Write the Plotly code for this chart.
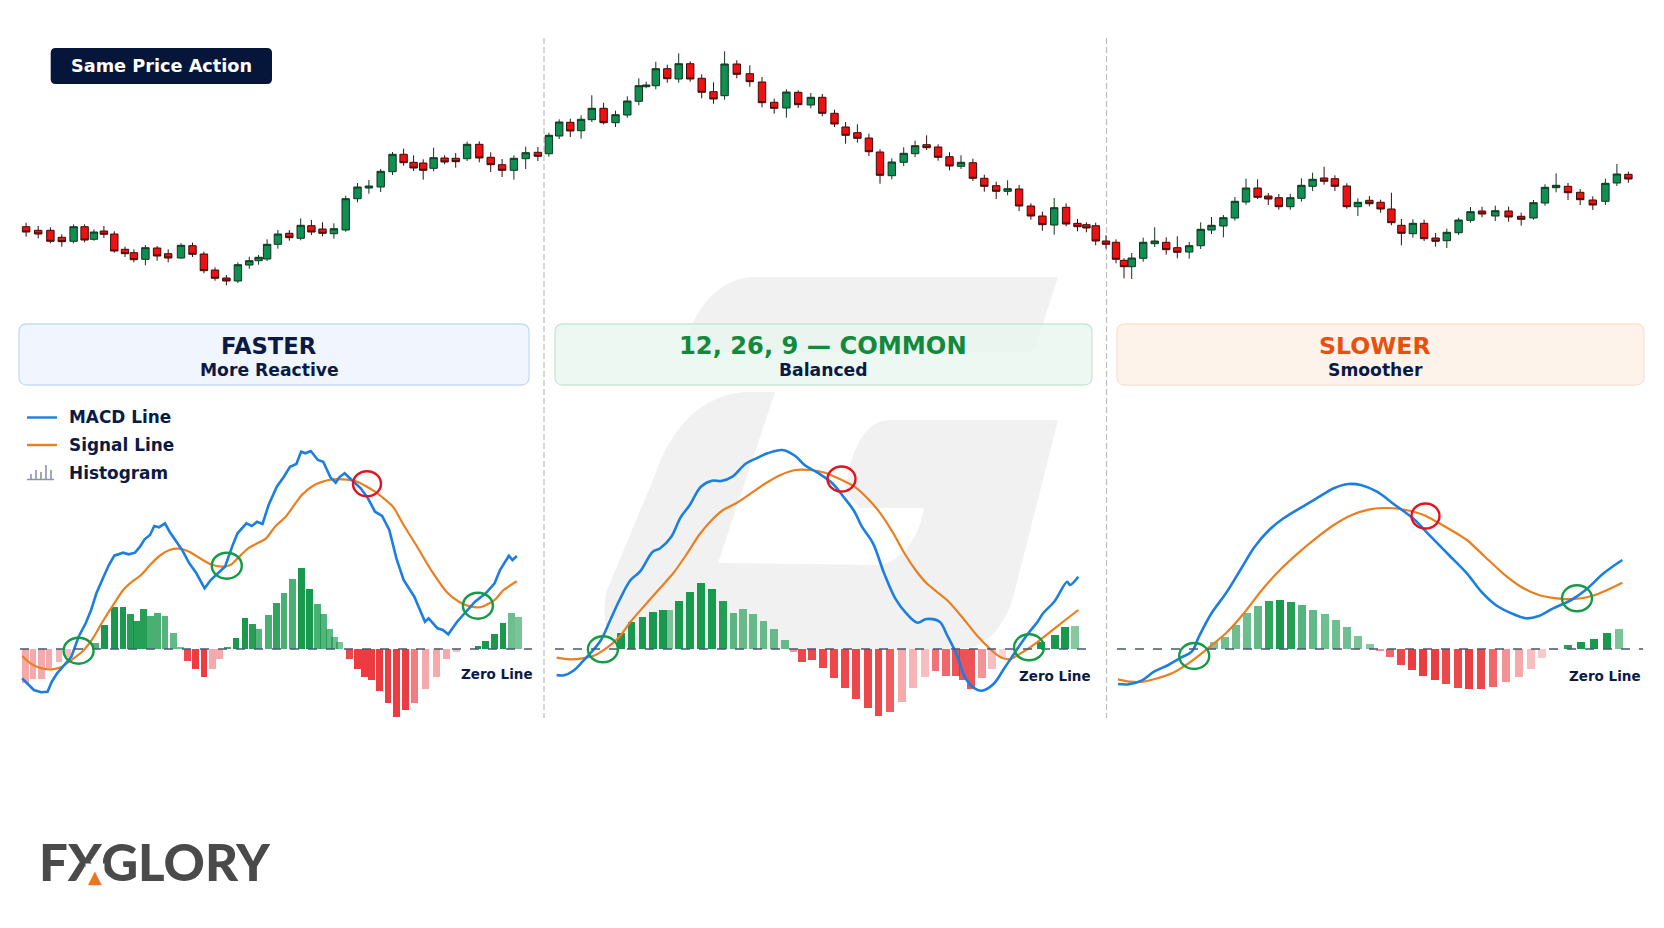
import plotly.graph_objects as go

W, H = 1664, 928

# candles, x on the shared horizontal scale, prices on an arbitrary scale
candle_x = [26.1,38.2,50.4,61.8,73.6,84.6,93.9,103.9,114.3,125,133.9,145.4,157.1,168.2,181,192.5,203.9,215,226.4,237.9,249.3,258.6,267.1,277.9,289.3,300.7,311.4,322.5,333.9,345.7,357.5,368.9,380.7,392.5,403.6,413.6,423.2,433.6,444.6,455.7,467.1,479.3,490.7,502.1,513.9,525.7,537.9,548.9,
            559.2,570.3,581.1,591.8,603.6,615.5,627.3,638.8,646.2,655.8,667.3,678.7,690.2,701.7,713.5,724.6,736.8,749.8,762,774.2,786.4,798.2,810.8,822.3,834.5,845.6,857.4,868.9,880,891.8,903.7,915.1,926.6,938.1,949.5,961,972.9,984.3,996.2,1007.6,1019.1,1030.9,1042.4,1054.2,1066.1,1077.5,1086.4,1095.7,1106,1116,
            1124,1131.7,1143.2,1154.7,1166.2,1177.3,1189.2,1200.7,1211.5,1223.4,1234.9,1246,1257.6,1268.3,1278.8,1290.3,1301.4,1312.6,1324.1,1334.9,1346.8,1357.9,1369.4,1380.6,1391.4,1401.4,1412.9,1424.1,1435.6,1446.8,1458.6,1470.5,1482,1495.3,1508.6,1521.2,1533.5,1545,1556.1,1568,1580.2,1592.8,1605.4,1616.9,1628.4]
candle_open = [73.3,69.7,69.7,62.7,58.7,73.3,60.7,69,66,50.7,47.3,40.7,52,46.3,42,54.3,46,30,22,19,35,39.3,41,55.7,66.7,61.7,74.3,71,66.3,70,101.3,112,113,128.3,145.7,137.7,137,131.7,142,141.7,141.3,155.7,142.7,135.3,129.7,141.3,147.7,146.3,
               164,177.7,169.3,180.3,191.7,177.3,185,198.7,213.3,214.3,231.3,221,236.3,221.7,208.3,204.3,236,226.3,218,197.7,192,207.7,195,202.7,186.7,173,167.3,162,148,124.3,137.7,146.3,155.3,153,143.3,133.7,137.3,121.7,114.3,108.7,111,94,84,75,92.7,76.7,75.3,74.3,59,57.7,
               39.7,33.3,41.7,56.3,57.7,52.3,48,54.3,70,74,82,98,112,104,102.3,93.3,101.7,113.7,122,121.3,114,93.3,99.7,97.7,91,74.7,66.3,76.7,62,59.3,67.3,79.7,89,84,89,83.7,82,97,112.3,113.7,107.7,100,98.7,117,125.7]
candle_high = [77.3,74,72.7,65.7,75.7,75.7,70.7,74,68.7,53.3,50.7,55,54,50.7,56.7,57.3,48.3,32.7,25,37.7,43.3,45,60.7,70,70,81.7,80,77.7,76.7,104.3,117,120,131,148,151.3,144.7,140.7,152.3,144.7,147,158.3,158.7,147.7,141,144.7,153.3,153,167.3,
               180.7,181.3,184.7,204.7,197.3,189.3,203.7,221.7,218.3,238.3,235.3,246.7,238.7,225.7,217.7,248.7,239.7,234.7,223,201.3,210.7,209.7,207,206,190.3,178,175.7,166.3,150.7,141.7,152.7,159.3,164.7,155.7,147.7,144.7,141.3,125.3,118.3,119.7,115,96.7,88.3,102,96.7,81,77.7,77.3,64.7,60.7,
               41.7,47,62.3,72.7,62.7,63.7,58,77.7,83,85,103,121.3,120.7,107,106,106.3,121.7,127.3,133.3,124.7,116.7,101.7,104,100.3,107.3,81,80.7,80.3,67,71.3,82.3,93,93.3,94.3,93.3,87.3,100,115.7,126.7,117,111,103.7,121.3,136,128.3]
candle_low = [63.3,61.7,56.7,53.3,56.7,57.7,59.3,62,47.3,43,37.7,34.7,39.3,37.7,41.3,43,26.7,19.3,14.7,17,31.3,35.3,39,51.3,59.3,59.7,65,63.7,61.3,68.3,97.7,106.3,108,125,134.3,129,120.3,128.7,135.7,132.3,139,137.7,128,123,120.3,131,139,143.3,
              161,163,161.3,178,175.7,173,182.3,194.7,211.7,210.7,217.3,217.3,218.3,201.7,196.3,200.3,221.7,213.3,192.7,186.3,182.3,192,191.7,183.7,173,156.3,157.3,144,116.3,120.7,134,143,150,139.3,129.7,131,119,108.3,101,104.7,89,80.3,69.3,65.3,73.7,68.7,67.7,54.7,51.3,36.7,
              21.7,21,38.3,53,45.3,41.7,41.3,51,66,62.7,79.3,95.3,101,95,90.3,90.3,98.3,109,115.3,109,91.3,84,93.7,87.3,74.7,54.7,62.3,59,53.3,52,65,77.3,82.7,79,78.3,74.3,80.3,94.3,107.7,100,95,90,95,114,117.3]
candle_close = [68,66,58.7,58.3,73.3,60,68,65.7,49,46.3,40.3,52.3,44,42,54.7,45.7,29.3,21.7,19,35.3,39.3,42.7,55.7,66,62.3,74.7,68,66.7,71.3,101.3,113,114,128.7,145.7,137.3,132,129.7,142.3,138,138.3,155.7,142,135.3,129.7,141.7,147.3,143.7,164.7,
                178,169,180.7,191.7,177.3,185.3,199,214.3,215,231.3,221.3,236.3,221,207.7,201,236,225.7,218.3,197.3,191.7,208,195.3,202.7,186.7,176,164.7,161.7,148.3,124.7,138,146.7,154.3,152.3,142.7,134,137.7,121.7,113.7,108.7,111.3,94,84,75.3,92.3,76,73.3,72,59,55.7,40.7,
                33.3,42,57.7,59,50.3,47.7,54.3,70.7,74.7,82.3,98.7,112,102.7,101,93.3,102.3,114.7,120.7,118.7,113.7,93.3,97.7,96.3,91,77.3,66.7,76.7,61.3,58.7,67.7,80,88.3,86,89.3,83,80.7,97.3,112.7,114.7,107.3,100.3,95,116.7,126,121]

# faster panel
fast_macd_x = [22.1,26.8,33.9,41.1,47.5,51.8,57.1,64.3,71.4,78.6,85.7,91.1,96.4,103.6,108.9,114.3,123.2,128.6,135,140,144.6,150,154.3,158.9,165,169.6,176.8,182.1,189.3,196.4,204.6,210.7,217.9,225,232.1,237.5,246.4,251.8,257.1,262.5,268.6,276.8,283.9,290,296.4,301.1,305.4,310.7,317.9,323.2,330.4,335.7,339.3,344.6,351.8,360.7,367.9,375,382.1,389.3,396.4,403.6,414.3,425,428.6,437.5,442.9,448.2,457.1,464.3,475,485.7,494.6,500,508.9,512.5,516.8]
fast_macd = [-29.3,-34.3,-41,-43.3,-42.7,-32.7,-24.3,-16,-7.7,12.3,25.7,39,55.7,72.3,84,93.3,96.3,94.7,96.3,102.3,109.7,114,123,121.7,125.7,117.3,107.3,99,85.7,75.7,60.7,69,75.7,82.3,102.3,115.7,125.7,123,127.3,125,144,162.3,172.3,182.3,185,197.3,195.7,198,189,187.3,171.7,166.3,171.7,175.7,169,160.7,150.7,137.3,133,119,90.7,69,52.3,27.3,30.7,20.7,19,14.7,27.3,35.7,47.3,55.7,65.7,79,93.3,89,93]
fast_signal_x = [22.1,30.4,41.1,51.8,60.7,71.4,82.1,92.9,103.6,114.3,123.2,132.1,141.1,150,160.7,169.6,178.6,189.3,200,210.7,221.4,230.4,239.3,248.2,266.1,275,285.7,301.8,314.3,328.6,342.9,357.1,375,392.9,403.6,416.1,432.1,446.4,458.9,471.4,482.1,494.6,503.6,516.8]
fast_signal = [-7,-14.3,-19.3,-20.3,-18.3,-11,-2.7,10.7,29,45.7,59,67.3,74,84,94,99,100.3,97.3,90.7,84.7,82.3,84,92.3,100.7,110.7,122.3,132.3,154,164,169,169.7,167.3,157.3,142.3,124,104,77.3,57.3,47.3,42.3,42.3,49,59,67.7]
fast_hist_x = [25.7,32.9,41.1,48.9,58.9,67.9,95.7,104.6,114.3,122.9,130.4,136.4,143.6,150.7,157.5,165,173.2,180.4,187.5,195.7,203.9,212.1,219.6,227.1,236,245,252.1,258.6,268.6,276.8,283.9,292.5,301.4,309.6,317.1,323.2,329.3,334.3,339.3,349.3,357.1,364.3,371.8,379.3,387.9,396.4,405.7,414.3,425.4,436.1,446.4,456.4,477.9,485.7,494.3,502.9,511.1,518.6]
fast_hist = [-34.3,-30,-30,-19.3,-12.7,-7.7,6.3,24,41.7,41.7,35,28,40.3,33.3,36.3,33,16,2.3,-11.7,-20,-28.3,-20,-10,1.3,11.3,30.7,25,19.7,34,46.3,55.7,70.3,80.7,59.7,45,35,20.3,12,6.7,-10.3,-20,-28.3,-31,-42,-54.3,-67.7,-61,-54.3,-40.3,-28.3,-9.7,-2.7,3.3,7.7,15.3,25.7,36.3,32]
fast_alpha = [.4,.4,.4,.4,.35,.3,.7,.95,.95,.95,.9,.9,.9,.75,.75,.7,.65,.6,.85,.9,.9,.4,.4,.8,.95,.95,.9,.7,.75,.85,.75,.75,.95,.95,.75,.7,.65,.6,.55,.85,.9,.9,.9,.9,.9,.9,.9,.6,.4,.4,.4,.3,.95,.95,.95,.95,.6,.55]
fast_buy_x, fast_buy_y = [78.6,226.8,477.9], [-1.7,83.3,43.3]
fast_sell_x, fast_sell_y = [367], [165.3]

# common 12, 26, 9 panel
mid_macd_x = [556.6,564,573.3,582.5,591.8,601,610.3,619.5,630.6,639.9,652.8,660.2,671.3,680.6,689.8,700.9,712,721.3,732.4,745.3,756.4,767.5,782.3,795.3,804.5,817.5,832.3,843.4,854.5,861.9,873,884.1,895.2,906.3,917.4,926.6,939.6,947,956.2,965.5,974.7,982.1,993.2,1004.3,1015.4,1028.3,1037.6,1043.1,1054.2,1067.2,1069.8,1078.3]
mid_macd = [-26,-26.3,-21.7,-12.7,-2.7,9,29,49,69,77.3,97.3,100.7,112.3,131.7,144,162.3,168.3,168,172.3,185,190.7,195.7,199,193,184,176.3,165.7,152.3,137.3,122.3,105.7,75.7,50.7,35.7,26.3,30,27.3,14,-4.3,-29.3,-39.3,-41.7,-35.3,-19.3,-2.7,15.7,27.3,35.7,47.3,67.3,64,72.3]
mid_signal_x = [556.6,569.6,582.5,595.5,608.4,619.5,630.6,643.6,658.4,673.2,686.1,699.1,710.2,723.1,736.1,750.9,765.7,780.5,795.3,810.1,824.9,839.7,854.5,867.4,880.4,893.3,904.4,915.5,926.6,947,961.8,976.5,991.3,1000.6,1009.8,1020.9,1035.7,1050.5,1065.3,1078.3]
mid_signal = [-8.7,-10.3,-9.3,-6,2.3,12.3,27.3,42.3,59,75.7,94,114,127.3,139,145.7,155.7,165.7,174,179,179,176.3,170,162.3,150.7,135.7,115.7,95.7,79,65.7,49,32.3,14,-1,-8.3,-10.3,-4.3,5.7,17.3,29,39]
mid_hist_x = [620.7,631.4,642.5,653.2,662.8,669.5,679.1,689.8,700.6,711.7,722.8,733.5,743.1,753.1,763.5,774.2,785.3,793.4,801.6,812.3,823,833.8,845.2,856.3,867.8,878.5,890,901.8,912.9,924.8,935.5,946.2,956.2,962.9,971,981.7,992.1,1002.5,1041.3,1054.6,1065.3,1075.3]
mid_hist = [16.3,27.3,32.3,36.7,39,38.7,48,57,65.7,60.3,48,36.3,40,35.3,28,20,9,-2.7,-13,-10.7,-19.3,-28.7,-39.3,-49.7,-59.3,-67,-62.7,-52.7,-39.3,-28.3,-22,-27.3,-27.3,-31,-40.3,-28.7,-20,-7.7,6.7,14,22.3,23]
mid_alpha = [.95,.95,.95,.95,.95,.5,.95,.95,.95,.95,.9,.65,.6,.6,.6,.6,.6,.5,.85,.85,.85,.85,.85,.85,.85,.85,.75,.4,.35,.3,.65,.7,.8,.8,.8,.5,.3,.2,.95,.95,.95,.5]
mid_buy_x, mid_buy_y = [602.9,1029], [-0.3,1.7]
mid_sell_x, mid_sell_y = [841.5], [170]

# slower panel
slow_macd_x = [1118,1128.8,1141.4,1154,1168.3,1180.9,1191.7,1198.9,1211.5,1225.9,1240.3,1254.7,1269.1,1283.5,1301.4,1319.4,1333.8,1348.2,1360.8,1377,1395,1412.9,1430.9,1448.9,1466.9,1481.3,1495.7,1513.7,1526.3,1538.8,1553.2,1571.2,1585.6,1603.6,1622.3]
slow_macd = [-35,-35.3,-31.7,-22.7,-16,-8.7,-2.7,12.3,35.7,55.7,79,102.3,119,130.7,141.7,152.3,160.7,165,164,157.3,144,130.7,112.3,94,75.7,57.3,44,34.7,30.7,33,40.7,49,59,75.7,89]
slow_signal_x = [1118,1130.6,1143.2,1157.6,1171.9,1189.9,1207.9,1225.9,1243.9,1261.9,1279.9,1297.8,1315.8,1333.8,1351.8,1369.8,1387.8,1405.8,1423.7,1445.3,1466.9,1484.9,1502.9,1520.9,1538.8,1556.8,1574.8,1592.8,1607.2,1622.3]
slow_signal = [-30.3,-32.7,-32.7,-29.3,-24.3,-13.3,0.7,15.7,35.7,59,79,95.7,110.7,124,134,139.7,141,139,134,122.3,109,92.3,75.7,62.3,54,50.7,50,53.3,59,66.3]
slow_hist_x = [1214.4,1224.8,1235.6,1246.8,1258.3,1269.1,1279.9,1290.6,1301.8,1312.9,1324.5,1335.6,1346.8,1358.3,1369.8,1379.9,1390.3,1401.1,1412.2,1423.4,1434.5,1446,1457.6,1469.1,1481.3,1493.2,1506.1,1518.7,1530.9,1542.4,1555,1568.3,1580.6,1593.9,1606.5,1618.7]
slow_hist = [7.3,12.3,24,35.7,43.3,48,48.7,47,43.7,39,34.7,29,22,13.3,5,-1.7,-8,-16.3,-21,-26.7,-31.3,-34.7,-38.7,-40,-39.7,-38,-33.3,-28,-19.7,-9.3,-1,4,6.7,10,15.7,19.7]
slow_alpha = [.55,.6,.6,.6,.65,.85,.95,.9,.7,.65,.6,.6,.6,.55,.5,.5,.7,.85,.9,.9,.9,.85,.85,.9,.85,.7,.5,.4,.3,.25,.2,.9,.95,.95,.95,.55]
slow_buy_x, slow_buy_y = [1194.2,1577], [-7,50.7]
slow_sell_x, slow_sell_y = [1425.5], [133]

panel_titles = ["FASTER", "12, 26, 9 — COMMON", "SLOWER"]
panel_subtitles = ["More Reactive", "Balanced", "Smoother"]
legend_labels = ["MACD Line", "Signal Line", "Histogram"]

BLUE, ORANGE = "#1b7ee0", "#ea7f1f"
GREEN, RED = "#0d9444", "#e9272c"
NAVY = "#0a1a45"
FONT = "DejaVu Sans"


def px_y(y):
    return 1 - y / H


def round_rect(x0, y0, x1, y1, r):
    return (f"M {x0+r},{y0} L {x1-r},{y0} Q {x1},{y0} {x1},{y0+r} L {x1},{y1-r} Q {x1},{y1} {x1-r},{y1} "
            f"L {x0+r},{y1} Q {x0},{y1} {x0},{y1-r} L {x0},{y0+r} Q {x0},{y0} {x0+r},{y0} Z")


def pixel_path(path, **kw):
    # x and y span the whole page in pixels, first so its below layer sits under the other subplots
    return dict(type="path", path=path, xref="x", yref="y", **kw)


def label(text, x, y, size, color=NAVY, weight=700, anchor="center", family=FONT):
    return dict(text=text, x=x / W, y=px_y(y), xref="paper", yref="paper", showarrow=False,
                xanchor=anchor, yanchor="middle", font=dict(family=family, size=size, color=color, weight=weight))


fig = go.Figure()
fig.add_trace(go.Candlestick(x=candle_x, open=candle_open, high=candle_high, low=candle_low, close=candle_close,
                             xaxis="x2", yaxis="y2", whiskerwidth=0, showlegend=False,
                             increasing=dict(line=dict(color="#10351f", width=1), fillcolor="#0f8f52"),
                             decreasing=dict(line=dict(color="#3a0b0b", width=1), fillcolor="#ee1111")))

panels = [(fast_hist_x, fast_hist, fast_alpha, 6.8, fast_macd_x, fast_macd, fast_signal_x, fast_signal, "linear"),
          (mid_hist_x, mid_hist, mid_alpha, 7.8, mid_macd_x, mid_macd, mid_signal_x, mid_signal, "spline"),
          (slow_hist_x, slow_hist, slow_alpha, 8, slow_macd_x, slow_macd, slow_signal_x, slow_signal, "spline")]
for hx, hy, alpha, bw, mx, my, sx, sy, macd_shape in panels:
    fig.add_trace(go.Bar(x=hx, y=hy, width=bw, xaxis="x3", yaxis="y3", showlegend=False,
                         marker=dict(color=[GREEN if v >= 0 else RED for v in hy], opacity=alpha, line_width=0)))
for hx, hy, alpha, bw, mx, my, sx, sy, macd_shape in panels:
    fig.add_trace(go.Scatter(x=sx, y=sy, mode="lines", xaxis="x3", yaxis="y3", showlegend=False,
                             line=dict(color=ORANGE, width=2.2, shape="spline", smoothing=0.6)))
    fig.add_trace(go.Scatter(x=mx, y=my, mode="lines", xaxis="x3", yaxis="y3", showlegend=False,
                             line=dict(color=BLUE, width=2.6, shape=macd_shape)))
# an invisible trace so the page axes exist
fig.add_trace(go.Scatter(x=[0], y=[0], mode="markers", xaxis="x", yaxis="y", showlegend=False, hoverinfo="skip",
                         marker=dict(opacity=0)))

shapes = []
# watermark behind everything
shapes.append(pixel_path("M 685,352 L 688,335 C 700,300 725,277 755,277 L 1058,277 L 1037,342 C 1034,349 1030,352 1025,352 Z",
                         fillcolor="#f1f1f1", line_width=0, layer="below"))
shapes.append(pixel_path("M 775,392 L 745,392 C 700,395 670,430 655,475 L 607,590 C 600,620 606,649 640,649 L 960,649 "
                         "C 990,649 1008,620 1015,590 L 1058,420 L 890,420 C 865,420 850,450 845,493 L 860,508 L 924,508 "
                         "C 918,545 895,565 877,565 L 718,563 Z", fillcolor="#f1f1f1", line_width=0, layer="below"))
# separators
for sep in (544, 1106.5):
    shapes.append(dict(type="line", xref="x", yref="y", x0=sep, x1=sep, y0=38, y1=718,
                       line=dict(color="#bdbdbd", width=1.2, dash="6px,3px"), layer="below"))
# header boxes
for (x0, x1), fill, border in zip([(19, 529), (555, 1092), (1117, 1644)],
                                  ["rgba(236,243,254,0.8)", "rgba(232,245,238,0.75)", "rgba(254,241,231,0.85)"],
                                  ["#c5daf6", "#c8e6d6", "#fbe2cf"]):
    shapes.append(pixel_path(round_rect(x0, 324, x1, 385, 8), fillcolor=fill, line=dict(color=border, width=1.3), layer="below"))
# price action badge
shapes.append(pixel_path(round_rect(50.7, 48, 272, 84, 5), fillcolor="#06163a", line_width=0, layer="above"))
# zero lines
for x0, x1 in [(20, 532), (555, 1095), (1117, 1643)]:
    shapes.append(dict(type="line", xref="x3", yref="y3", x0=x0, x1=x1, y0=0, y1=0,
                       line=dict(color="#4b5675", width=1.3, dash="dash"), layer="above"))
# crossover rings
for bx, by, sx, sy in [(fast_buy_x, fast_buy_y, fast_sell_x, fast_sell_y),
                       (mid_buy_x, mid_buy_y, mid_sell_x, mid_sell_y),
                       (slow_buy_x, slow_buy_y, slow_sell_x, slow_sell_y)]:
    for x, y in zip(bx, by):
        shapes.append(dict(type="circle", xref="x3", yref="y3", x0=x-15, x1=x+15, y0=y-13, y1=y+13,
                           line=dict(color="#159a45", width=2.4), layer="above"))
    for x, y in zip(sx, sy):
        shapes.append(dict(type="circle", xref="x3", yref="y3", x0=x-14, x1=x+14, y0=y-12.5, y1=y+12.5,
                           line=dict(color="#e2121f", width=2.4), layer="above"))
# legend keys
shapes.append(pixel_path("M 27,417.5 L 57,417.5", line=dict(color=BLUE, width=2.4), layer="above"))
shapes.append(pixel_path("M 27,445 L 57,445", line=dict(color=ORANGE, width=2.4), layer="above"))
shapes.append(pixel_path("M 27,479.5 L 54,479.5 M 31,479 L 31,474 M 36,479 L 36,470 M 41,479 L 41,472 M 46,479 L 46,465 M 51,479 L 51,470",
                         line=dict(color="#8c93a6", width=1.6), layer="above"))

annotations = [label("Same Price Action", 161.5, 66.5, 17.7, "white")]
for cx, title, sub, color, size in zip([269, 823, 1375], panel_titles, panel_subtitles, [NAVY, "#118a3e", "#e8500f"], [22.7, 24.2, 23.6]):
    annotations.append(label(title, cx, 346, size, color))
    annotations.append(label(sub, cx, 370.5, 17.2, NAVY))
for text, y in zip(legend_labels, [416.5, 444.5, 473]):
    annotations.append(label(text, 67, y, 16.9, NAVY, anchor="left"))
for x, y in [(497, 674), (1055, 676), (1605, 676)]:
    annotations.append(label("Zero Line", x, y, 13.5))
annotations.append(label("FXGLORY", 154.5, 861, 51, "#4a4a4a", weight=900, family="Lato"))
# the foot of the X is an orange wedge, white box hides the glyph leg under it
annotations.append(dict(label("▲", 95, 876, 18, "#e87722", weight=400), bgcolor="white", borderpad=2))

fig.update_layout(
    width=W, height=H, margin=dict(l=0, r=0, t=0, b=0),
    paper_bgcolor="white", plot_bgcolor="rgba(0,0,0,0)", showlegend=False, bargap=0,
    boxgap=0, boxgroupgap=0, barmode="overlay",
    xaxis=dict(domain=[0, 1], range=[0, W], visible=False, fixedrange=True, anchor="y"),
    yaxis=dict(domain=[0, 1], range=[H, 0], visible=False, fixedrange=True, anchor="x"),
    xaxis2=dict(domain=[0, 1], range=[0, W], visible=False, rangeslider=dict(visible=False), fixedrange=True, anchor="y2"),
    yaxis2=dict(domain=[px_y(300), px_y(30)], range=[0, 270], visible=False, fixedrange=True, anchor="x2"),
    xaxis3=dict(domain=[0, 1], range=[0, W], visible=False, fixedrange=True, anchor="y3"),
    yaxis3=dict(domain=[px_y(730), px_y(390)], range=[-81, 259], visible=False, fixedrange=True, anchor="x3"),
    shapes=shapes, annotations=annotations,
)
# keep the page flush with the window
fig.write_html("out.html", config={"displayModeBar": False}, post_script="document.body.style.margin='0';")
